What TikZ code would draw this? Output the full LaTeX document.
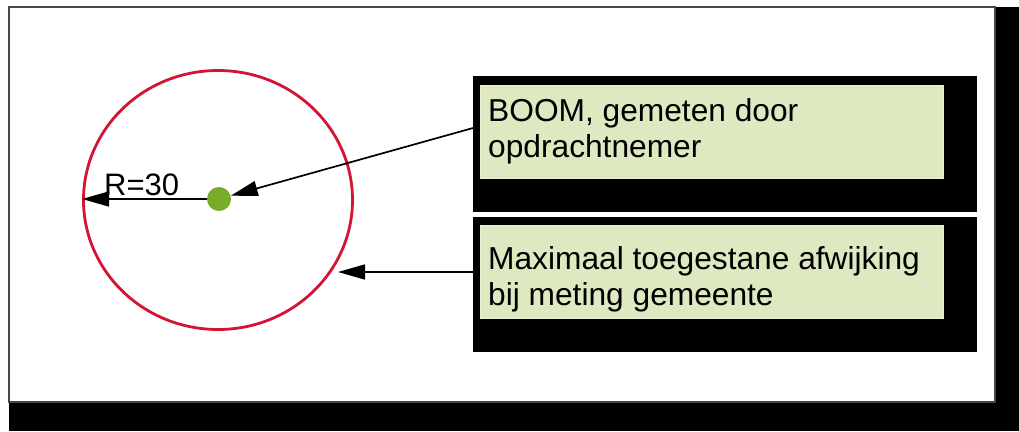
\documentclass[tikz,border=0pt]{standalone}
\usepackage{fontspec}
\setmainfont{Liberation Sans}
\usetikzlibrary{arrows.meta,shapes.geometric}
\definecolor{ringred}{RGB}{212,20,52}
\definecolor{dotgreen}{RGB}{118,172,40}
\definecolor{boxgreen}{RGB}{222,232,193}
\definecolor{framegray}{RGB}{70,70,70}
\tikzset{
  blackbox/.style={fill=black, draw=none, anchor=north west, inner sep=0pt},
  greenbox/.style={fill=boxgreen, draw=boxgreen!70!white, line width=0.8pt, anchor=north west, inner sep=0pt},
  labeltext/.style={font=\fontsize{31.7}{36}\selectfont, align=left, inner sep=0pt, anchor=north west},
  arr/.style={draw=black, line width=1.7pt, -{Triangle[length=27pt,width=15pt]}},
}
\begin{document}
\begin{tikzpicture}[x=1pt,y=-1pt]
\useasboundingbox (0,0) rectangle (1019,431);
% frame with black shadow
\fill[black] (9,7) rectangle (1019,431);
\draw[fill=white, draw=framegray, line width=1.2pt] (9,7) rectangle (995,402);
% boxes
\node[blackbox, minimum width=504pt, minimum height=136pt] (box1) at (473,76) {};
\node[greenbox, minimum width=463pt, minimum height=93pt] (g1) at (480,85) {};
\node[labeltext] (t1) at (488,98.5) {BOOM, gemeten door\\opdrachtnemer};
\node[blackbox, minimum width=504pt, minimum height=135pt] (box2) at (473,217) {};
\node[greenbox, minimum width=463pt, minimum height=93pt] (g2) at (480,225) {};
\node[labeltext] (t2) at (488,246.5) {Maximaal toegestane afwijking\\bij meting gemeente};
% circle and dot
\node[ellipse, draw=ringred, line width=2.8pt, minimum width=269pt, minimum height=259pt, inner sep=0pt] (ring) at (218,200) {};
\node[circle, fill=dotgreen, minimum size=24pt, inner sep=0pt] (dot) at (219,199) {};
\node[font=\fontsize{31}{36}\selectfont, inner sep=0pt, anchor=base west] (rlabel) at (104,195) {R=30};
% connectors
\coordinate (a1) at (473,128);
\coordinate (a2) at (473,272);
\coordinate (e2) at (338,272);
\coordinate (e0) at (ring.west |- dot.west);
\draw[arr] (dot.west) -- (e0);
\draw[arr] (a1) -- (dot);
\draw[arr] (a2) -- (e2);
\end{tikzpicture}
\end{document}
